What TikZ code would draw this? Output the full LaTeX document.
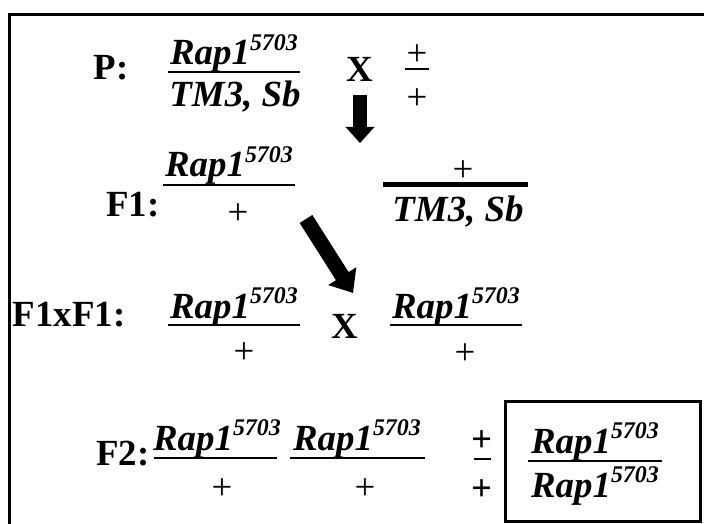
\documentclass[tikz,border=0pt]{standalone}
\usepackage{fontspec}
\setmainfont{Liberation Serif}
\usetikzlibrary{arrows.meta}
% allele name with its superscript
\newcommand{\rapallele}{Rap1\raisebox{0.4em}{\fontsize{24}{24}\selectfont 5703}}
\tikzset{
  lbl/.style={font=\fontsize{37}{40}\selectfont\bfseries, inner sep=0pt, anchor=base},
  gene/.style={font=\fontsize{37}{40}\selectfont\bfseries\itshape, inner sep=0pt, anchor=base},
  wt/.style={font=\fontsize{37}{40}\selectfont, inner sep=0pt},
  wtbold/.style={font=\fontsize{37}{40}\selectfont\bfseries, inner sep=0pt},
  fbar/.style={line width=1.5bp},
  thickbar/.style={line width=5bp},
  blockarrow/.style={line width=14bp, -{Triangle[width=28bp,length=16bp]}},
  bigarrow/.style={line width=15bp, -{Triangle[width=32bp,length=20bp]}},
  frame/.style={line width=3bp},
}
\begin{document}
\begin{tikzpicture}[x=1bp, y=-1bp]
\useasboundingbox (0,0) rectangle (704,524);
\clip (0,0) rectangle (704,524);
\fill[white] (0,0) rectangle (704,524);
% outer frame
\draw[frame] (9,540) -- (9,15) -- (720,15);

% ---- P generation ----
\node[lbl] (pl) at (111,80) {P:};
\node[gene] (pnum) at (234,65) {\rapallele};
\draw[fbar] (168,72) -- (300,72);
\node[gene] (pden) at (235,107) {TM3, Sb};
\node[lbl] (px) at (360,82) {X};
\node[wt] (ptop) at (417,55) {+};
\draw[fbar] (405,69) -- (429,69);
\node[wt] (pbot) at (417,99) {+};
\coordinate (d1) at (360,95);
\coordinate (d2) at (360,143);
\draw[blockarrow] (d1) -- (d2);

% ---- F1 generation ----
\node[lbl] (f1l) at (133,217) {F1:};
\node[gene] (f1num) at (229,177) {\rapallele};
\draw[fbar] (163,185) -- (295,185);
\node[wt] (f1den) at (238,214) {+};
\node[wt] (f1rtop) at (463,171) {+};
\draw[thickbar] (383,185) -- (528,185);
\node[gene] (f1rden) at (458,222) {TM3, Sb};
\coordinate (g1) at (306,219);
\coordinate (g2) at (353,293);
\draw[bigarrow] (g1) -- (g2);

% ---- F1 x F1 ----
\node[lbl] (xl) at (69,326) {F1xF1:};
\node[gene] (xnum1) at (234,318) {\rapallele};
\draw[fbar] (168,325) -- (300,325);
\node[wt] (xden1) at (244,353) {+};
\node[lbl] (xx) at (345,338) {X};
\node[gene] (xnum2) at (456,318) {\rapallele};
\draw[fbar] (390,325) -- (522,325);
\node[wt] (xden2) at (465,354) {+};

% ---- F2 generation ----
\node[lbl] (f2l) at (123,465) {F2:};
\node[gene] (a1) at (217,450) {\rapallele};
\draw[fbar] (154,458) -- (277,458);
\node[wt] (a2) at (222,489) {+};
\node[gene] (b1) at (357,450) {\rapallele};
\draw[fbar] (290,458) -- (425,458);
\node[wt] (b2) at (365,489) {+};
\node[wtbold] (c1) at (482,441) {+};
\draw[fbar] (474,459) -- (491,459);
\node[wtbold] (c2) at (482,490) {+};
% homozygous class, boxed
\draw[frame] (505,401) rectangle (700,521);
\node[gene] (h1) at (595,453) {\rapallele};
\draw[fbar] (528,461) -- (662,461);
\node[gene] (h2) at (595,497) {\rapallele};
\end{tikzpicture}
\end{document}
